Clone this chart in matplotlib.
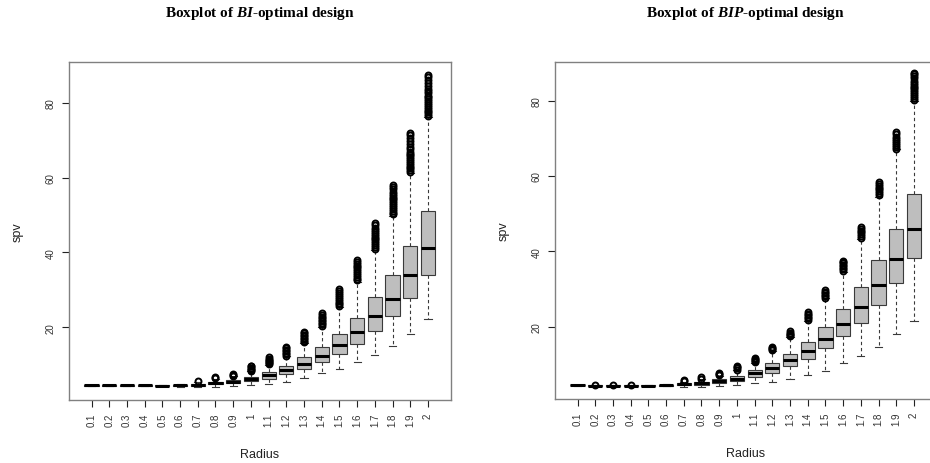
import matplotlib
matplotlib.use("Agg")
import matplotlib.pyplot as plt

plt.rcParams['font.family'] = ['Liberation Sans', 'DejaVu Sans']
plt.rcParams['mathtext.fontset'] = 'custom'
plt.rcParams['mathtext.bfit'] = 'Liberation Serif:bold:italic'
plt.rcParams['mathtext.bf'] = 'Liberation Serif:bold'
plt.rcParams['mathtext.rm'] = 'Liberation Serif'

radius = ["0.1", "0.2", "0.3", "0.4", "0.5", "0.6", "0.7", "0.8", "0.9", "1",
          "1.1", "1.2", "1.3", "1.4", "1.5", "1.6", "1.7", "1.8", "1.9", "2"]

# BI-optimal design: lower whisker, Q1, median, Q3, upper whisker
bi_whislo = [4.3, 4.3, 4.3, 4.3, 4.2, 4.0, 4.0, 4.1, 4.2, 4.6,
             4.9, 5.4, 6.3, 7.7, 8.8, 10.7, 12.6, 14.9, 18.1, 22.3]
bi_q1 = [4.35, 4.35, 4.35, 4.35, 4.3, 4.2, 4.3, 4.7, 5.0, 5.5,
         6.2, 7.5, 8.7, 10.7, 12.7, 15.5, 19.1, 23.0, 27.9, 34.1]
bi_med = [4.4, 4.4, 4.4, 4.4, 4.35, 4.4, 4.6, 5.0, 5.4, 6.1,
          7.1, 8.4, 10.1, 12.4, 15.1, 18.8, 22.9, 27.5, 33.9, 41.1]
bi_q3 = [4.45, 4.45, 4.45, 4.45, 4.45, 4.6, 4.9, 5.4, 5.9, 6.7,
         7.9, 9.7, 11.9, 14.7, 18.1, 22.5, 28.2, 34.0, 41.7, 51.2]
bi_whishi = [4.5, 4.5, 4.5, 4.5, 4.5, 4.8, 5.4, 6.1, 6.9, 8.2,
             10.0, 12.2, 15.7, 20.1, 25.4, 32.2, 40.6, 49.8, 61.2, 76.2]
bi_outliers = [
    [], [], [], [], [], [],
    [5.7],
    [6.4, 6.6],
    [7.0, 7.2, 7.5],
    [8.3, 8.6, 8.9, 9.2, 9.5, 9.7],
    [10.1, 10.4, 10.7, 11.0, 11.3, 11.6, 11.9],
    [12.3, 12.7, 13.1, 13.5, 13.9, 14.3, 14.8],
    [16.0, 16.4, 16.8, 17.2, 17.6, 18.0, 18.4, 18.7],
    [20.4, 20.8, 21.2, 21.6, 22.0, 22.4, 22.8, 23.2, 23.7],
    [25.6, 26.1, 26.6, 27.1, 27.6, 28.1, 28.6, 29.1, 29.6, 30.2],
    [32.5, 33.0, 33.5, 34.0, 34.5, 35.0, 35.5, 36.0, 36.5, 37.0, 37.5, 37.9],
    [41.0, 41.5, 42.0, 42.5, 43.0, 43.5, 44.0, 44.5, 45.0, 45.5, 46.0, 46.6, 47.3, 47.9],
    [50.2, 50.7, 51.2, 51.7, 52.2, 52.7, 53.2, 53.7, 54.2, 54.7, 55.2, 55.7, 56.3, 57.0, 57.6, 58.1],
    [61.5, 62.0, 62.5, 63.0, 63.5, 64.0, 64.5, 65.0, 65.5, 66.0, 66.5, 67.0, 67.6,
     68.3, 69.0, 69.8, 70.6, 71.4, 72.1],
    [76.5, 77.0, 77.5, 78.0, 78.5, 79.0, 79.5, 80.0, 80.5, 81.0, 81.5, 82.0, 82.6,
     83.2, 83.8, 84.5, 85.3, 86.2, 87.0, 87.6],
]

# BIP-optimal design
bip_whislo = [4.35, 4.1, 4.1, 4.1, 4.2, 4.2, 4.0, 4.0, 4.2, 4.5,
              4.9, 5.3, 6.0, 7.2, 8.3, 10.3, 12.3, 14.6, 18.0, 21.6]
bip_q1 = [4.4, 4.2, 4.2, 4.2, 4.25, 4.35, 4.4, 4.6, 4.9, 5.5,
          6.5, 7.8, 9.6, 11.5, 14.3, 17.5, 21.0, 25.8, 31.6, 38.1]
bip_med = [4.45, 4.3, 4.3, 4.3, 4.3, 4.5, 4.7, 5.0, 5.5, 6.2,
           7.6, 9.0, 11.2, 13.6, 16.8, 20.7, 25.3, 31.1, 38.0, 45.9]
bip_q3 = [4.5, 4.4, 4.4, 4.4, 4.4, 4.6, 5.0, 5.4, 6.1, 7.0,
          8.5, 10.3, 12.8, 15.8, 19.8, 24.7, 30.4, 37.6, 45.9, 55.3]
bip_whishi = [4.55, 4.5, 4.5, 4.5, 4.45, 4.8, 5.4, 6.0, 7.0, 8.4,
              10.4, 13.5, 17.2, 21.5, 27.5, 34.5, 43.3, 54.5, 67.0, 80.0]
bip_outliers = [
    [], [4.6], [4.6], [4.6], [], [],
    [5.6, 5.9],
    [6.2, 6.5],
    [7.2, 7.5, 7.7],
    [8.6, 8.9, 9.2, 9.5],
    [10.6, 10.9, 11.2, 11.5, 11.7],
    [13.7, 14.0, 14.3, 14.7],
    [17.5, 17.8, 18.1, 18.4, 18.7],
    [21.8, 22.2, 22.6, 23.0, 23.4, 23.8],
    [27.7, 28.1, 28.5, 28.9, 29.3, 29.7],
    [34.8, 35.2, 35.6, 36.0, 36.4, 36.8, 37.2, 37.5],
    [43.5, 44.0, 44.5, 45.0, 45.5, 46.0, 46.5],
    [54.9, 55.4, 55.9, 56.4, 56.9, 57.4, 57.9, 58.5],
    [67.2, 67.7, 68.2, 68.7, 69.2, 69.8, 70.4, 71.0, 71.6],
    [80.2, 80.7, 81.2, 81.7, 82.2, 82.7, 83.2, 83.7, 84.2, 84.7, 85.3, 85.9, 86.5, 87.0, 87.3],
]

titles = [r"Boxplot of $\mathbfit{BI}$-optimal design",
          r"Boxplot of $\mathbfit{BIP}$-optimal design"]
yticks = [20, 40, 60, 80]

W, H = 930, 464
fig = plt.figure(figsize=(W / 100, H / 100), dpi=100)

panels = [
    dict(rect=(68.5, 63, 382.5, 338), ylim=(0.5, 91.0),
         data=(bi_whislo, bi_q1, bi_med, bi_q3, bi_whishi, bi_outliers), title=titles[0]),
    dict(rect=(554.5, 62.7, 382.5, 337.6), ylim=(0.7, 90.3),
         data=(bip_whislo, bip_q1, bip_med, bip_q3, bip_whishi, bip_outliers), title=titles[1]),
]

for p in panels:
    x0, y0, w, h = p["rect"]
    ax = fig.add_axes([x0 / W, 1 - (y0 + h) / H, w / W, h / H])
    wl, q1, md, q3, wh, fl = p["data"]
    stats = []
    for i in range(len(radius)):
        stats.append(dict(whislo=wl[i], q1=q1[i], med=md[i], q3=q3[i],
                          whishi=wh[i], fliers=fl[i], label=radius[i]))
    ax.bxp(stats, positions=list(range(1, len(radius) + 1)), widths=0.8,
           patch_artist=True, showfliers=True,
           boxprops=dict(facecolor="#bebebe", edgecolor="#3a3a3a", linewidth=0.8),
           whiskerprops=dict(color="#3a3a3a", linewidth=0.8, linestyle=(0, (3, 2.5))),
           capprops=dict(color="#3a3a3a", linewidth=0.8),
           medianprops=dict(color="black", linewidth=2.2, solid_capstyle="butt"),
           flierprops=dict(marker="o", markerfacecolor="none", markeredgecolor="black",
                           markersize=4.3, markeredgewidth=1.4, linestyle="none"))
    ax.set_xlim(-0.3, 21.3)
    ax.set_ylim(*p["ylim"])
    ax.set_xticks(range(1, len(radius) + 1))
    ax.set_xticklabels(radius, rotation=90, fontsize=7, color="#333333")
    ax.set_yticks(yticks)
    ax.set_yticklabels([str(t) for t in yticks], rotation=90, va="center",
                       fontsize=7, color="#333333")
    ax.tick_params(axis="both", length=5, width=0.8, color="#222222", pad=4)
    for s in ax.spines.values():
        s.set_color("#808080")
        s.set_linewidth(1.0)
    ax.set_xlabel("Radius", fontsize=9, color="#222222", va="center", ha="center")
    ax.set_ylabel("spv", fontsize=9, color="#222222", va="center", ha="center")
    ax.yaxis.set_label_coords(-(51 / w), 0.5)
    ax.xaxis.set_label_coords(0.5, -(54 / h))
    fig.text((x0 + w / 2) / W, 1 - 14 / H, p["title"], ha="center", va="center",
             fontsize=11, fontweight="bold", family="Liberation Serif")

fig.savefig("out.png", dpi=100)
